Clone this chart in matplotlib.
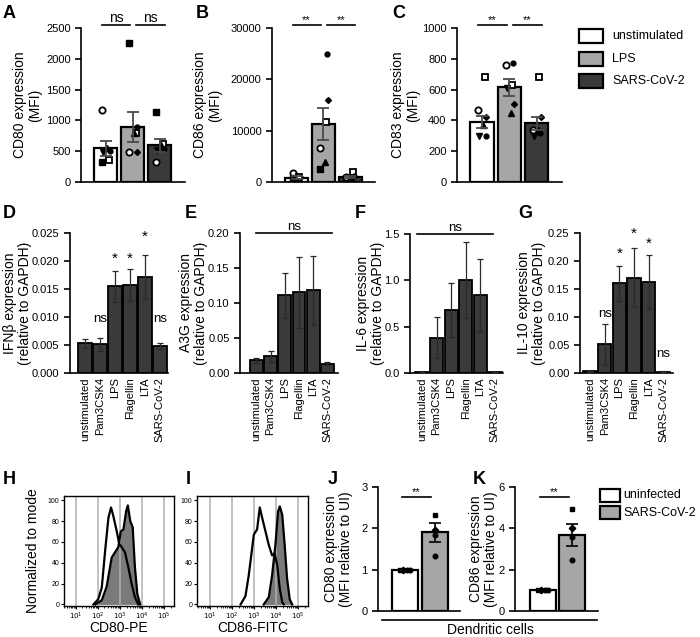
import numpy as np
import matplotlib.pyplot as plt
from matplotlib.patches import Rectangle
from matplotlib.lines import Line2D

plt.rcParams['font.family'] = ['Liberation Sans', 'DejaVu Sans']
plt.rcParams['axes.linewidth'] = 1.2

# --- data -------------------------------------------------------------
groups = ['unstimulated', 'LPS', 'SARS-CoV-2']
group_colors = ['white', '#a6a6a6', '#3a3a3a']

cd80_mean = [545, 890, 600]
cd80_sem = [120, 245, 105]
cd80_pts = [[1170, 510, 560, 480, 330, 350],
            [2250, 790, 800, 480, 480, 900],
            [1140, 620, 540, 520, 330, 600]]
cd80_mk = [['oc', 'fc', 'ft', 'iv', 'fs', 'os'],
           ['fs', 'os', 'ft', 'oc', 'fd', 'fc'],
           ['fs', 'os', 'fc', 'iv', 'oc', 'ft']]

cd86_mean = [850, 11300, 1000]
cd86_sem = [300, 3100, 250]
cd86_pts = [[1800, 900, 700, 600, 800, 1000],
            [24900, 16000, 11700, 6700, 3800, 2600],
            [2000, 1100, 900, 800, 700, 1000]]
cd86_mk = [['oc', 'fc', 'ft', 'iv', 'fs', 'os'],
           ['fc', 'fd', 'os', 'oc', 'ft', 'fs'],
           ['os', 'fc', 'ft', 'iv', 'fs', 'oc']]

cd83_mean = [390, 615, 380]
cd83_sem = [40, 55, 45]
cd83_pts = [[680, 470, 420, 370, 300, 300],
            [775, 760, 630, 506, 448, 610],
            [680, 425, 340, 340, 300, 320]]
cd83_mk = [['os', 'oc', 'fd', 'ft', 'iv', 'fc'],
           ['fc', 'oc', 'os', 'fd', 'ft', 'iv'],
           ['os', 'fd', 'oc', 'ft', 'iv', 'fc']]

stimuli = ['unstimulated', 'Pam3CSK4', 'LPS', 'Flagellin', 'LTA', 'SARS-CoV-2']
ifnb_mean = [0.0053, 0.0051, 0.0155, 0.0157, 0.0172, 0.0048]
ifnb_sem = [0.0008, 0.0011, 0.0028, 0.0028, 0.0039, 0.0006]
ifnb_sig = ['', 'ns', '*', '*', '*', 'ns']
ifnb_sig_y = [0, 0.0085, 0.0192, 0.0192, 0.0230, 0.0085]

a3g_mean = [0.018, 0.024, 0.111, 0.115, 0.118, 0.013]
a3g_sem = [0.004, 0.008, 0.032, 0.051, 0.049, 0.002]

il6_mean = [0.006, 0.38, 0.68, 1.0, 0.84, 0.006]
il6_sem = [0.002, 0.22, 0.29, 0.41, 0.39, 0.002]

il10_mean = [0.003, 0.051, 0.160, 0.170, 0.163, 0.002]
il10_sem = [0.001, 0.036, 0.031, 0.053, 0.048, 0.001]
il10_sig = ['', 'ns', '*', '*', '*', 'ns']
il10_sig_y = [0, 0.094, 0.200, 0.236, 0.218, 0.024]

# flow histograms (x = log10 fluorescence, y = % of mode)
h_open_x = [1.80, 2.02, 2.18, 2.33, 2.48, 2.60, 2.70, 2.86, 2.97, 3.08, 3.23, 3.38, 3.53, 3.68, 3.83]
h_open_y = [0, 5, 16, 51, 83, 93, 85, 70, 58, 55, 50, 36, 20, 7, 0]
h_fill_x = [1.89, 2.18, 2.40, 2.63, 2.78, 2.93, 3.04, 3.16, 3.29, 3.36, 3.47, 3.58, 3.68, 3.79, 3.92]
h_fill_y = [0, 4, 17, 45, 50, 55, 70, 72, 90, 95, 80, 74, 36, 10, 0]
i_open_x = [2.39, 2.61, 2.76, 2.99, 3.14, 3.26, 3.37, 3.52, 3.67, 3.82, 3.93, 4.05, 4.17, 4.28, 4.35]
i_open_y = [0, 8, 28, 67, 72, 93, 83, 70, 57, 47, 49, 38, 15, 2, 0]
i_fill_x = [3.44, 3.67, 3.82, 3.97, 4.09, 4.17, 4.28, 4.38, 4.50, 4.62, 4.73]
i_fill_y = [0, 7, 28, 57, 89, 94, 86, 60, 25, 5, 0]

dc_groups = ['uninfected', 'SARS-CoV-2']
dc_colors = ['white', '#a6a6a6']
j_mean = [1.0, 1.9]
j_sem = [0.01, 0.22]
j_pts = [[1.0, 1.0, 1.0, 1.0], [2.33, 1.95, 1.84, 1.34]]
k_mean = [1.0, 3.68]
k_sem = [0.02, 0.52]
k_pts = [[1.0, 1.0, 1.0, 1.0], [4.94, 4.0, 3.6, 2.46]]
dc_mk = ['fs', 'fd', 'fc', 'fc']

# --- layout helpers ---------------------------------------------------
W, H = 700, 637
fig = plt.figure(figsize=(7, 6.37), dpi=100)


def add_ax(l, t, r, b):
    return fig.add_axes([l / W, 1 - b / H, (r - l) / W, (b - t) / H])


def ylab(ax, text, right_px, l, r, size=10):
    ax.set_ylabel(text, fontsize=size, linespacing=1.05)
    ax.yaxis.set_label_coords((right_px - l) / (r - l), 0.5)


def letter(x, y, s):
    fig.text(x / W, 1 - y / H, s, fontsize=13, fontweight='bold', ha='center', va='center')


def style(ax):
    for s in ['top', 'right']:
        ax.spines[s].set_visible(False)
    ax.tick_params(direction='out', length=4, width=1.2, labelsize=8)


mk_style = {
    'oc': dict(marker='o', mfc='white', mec='black', ms=4.5, mew=1.3),
    'fc': dict(marker='o', mfc='black', mec='black', ms=3.5),
    'ft': dict(marker='^', mfc='black', mec='black', ms=4),
    'iv': dict(marker='v', mfc='black', mec='black', ms=4),
    'fs': dict(marker='s', mfc='black', mec='black', ms=3.8),
    'os': dict(marker='s', mfc='white', mec='black', ms=4.5, mew=1.3),
    'fd': dict(marker='D', mfc='black', mec='black', ms=3),
}
mk_dx = {'oc': -0.14, 'fc': 0.14, 'ft': 0.05, 'iv': -0.1, 'fs': -0.14, 'os': 0.1, 'fd': 0.16}


def sig(ax, x0, x1, y, text, fs=10):
    ax.plot([x0, x1], [y, y], color='black', lw=1.2, clip_on=False)
    ax.text((x0 + x1) / 2, y, text, ha='center', va='bottom', fontsize=fs, clip_on=False)


def abc_panel(box, means, sems, pts, mks, ymax, yticks, label, lab_right, stars):
    l, t, r, b = box
    ax = add_ax(l, t, r, b)
    x = np.arange(3)
    ax.bar(x, means, width=0.86, color=group_colors, edgecolor='black', linewidth=1.6, zorder=2)
    for i in range(3):
        for v, m in zip(pts[i], mks[i]):
            ax.plot(i + mk_dx[m], v, ls='none', zorder=3, **mk_style[m])
    ax.errorbar(x, means, yerr=sems, fmt='none', ecolor='#4a4a4a', elinewidth=1.3,
                capsize=4.5, capthick=1.3, zorder=4)
    ax.set_xlim(-0.92, 2.93)
    ax.set_ylim(0, ymax)
    ax.set_yticks(yticks)
    ax.set_xticks([])
    style(ax)
    ylab(ax, label, lab_right, l, r)
    fs = 10 if stars == 'ns' else 8
    sig(ax, -0.15, 0.9, ymax * 1.02, stars, fs)
    sig(ax, 1.12, 2.18, ymax * 1.02, stars, fs)
    return ax


def dg_panel(box, means, sems, ymax, yticks, fmt, label, lab_right, xlim):
    l, t, r, b = box
    ax = add_ax(l, t, r, b)
    x = np.arange(6)
    ax.bar(x, means, width=0.9, color='#3a3a3a', edgecolor='black', linewidth=1.3, zorder=2)
    ax.errorbar(x, means, yerr=sems, fmt='none', ecolor='#2a2a2a', elinewidth=0.9,
                capsize=2.5, capthick=0.9, zorder=3)
    ax.set_xlim(*xlim)
    ax.set_ylim(0, ymax)
    ax.set_yticks(yticks)
    ax.set_yticklabels([fmt % v for v in yticks])
    ax.set_xticks(x)
    ax.set_xticklabels(stimuli, rotation=90, fontsize=8.5)
    style(ax)
    ax.tick_params(axis='x', length=0, pad=3)
    ylab(ax, label, lab_right, l, r)
    return ax


# --- A-C ---------------------------------------------------------------
abc_panel((81, 28, 185, 182), cd80_mean, cd80_sem, cd80_pts, cd80_mk, 2500,
          [0, 500, 1000, 1500, 2000, 2500], 'CD80 expression\n(MFI)', 42, 'ns')
abc_panel((272, 28, 375, 182), cd86_mean, cd86_sem, cd86_pts, cd86_mk, 30000,
          [0, 10000, 20000, 30000], 'CD86 expression\n(MFI)', 222, '**')
abc_panel((457, 28, 562, 182), cd83_mean, cd83_sem, cd83_pts, cd83_mk, 1000,
          [0, 200, 400, 600, 800, 1000], 'CD83 expression\n(MFI)', 420, '**')

# legend for A-C
for cy, g, c in zip([36, 59, 81], groups, group_colors):
    fig.add_artist(Rectangle((579 / W, 1 - (cy + 7) / H), 24 / W, 14 / H, transform=fig.transFigure,
                             facecolor=c, edgecolor='black', lw=1.6))
    fig.text(612 / W, 1 - cy / H, g, fontsize=9, va='center', ha='left')

# --- D-G ---------------------------------------------------------------
axd = dg_panel((70, 233, 168, 373), ifnb_mean, ifnb_sem, 0.025,
               [0, 0.005, 0.010, 0.015, 0.020, 0.025], '%.3f',
               'IFNβ expression\n(relative to GAPDH)', 32, (-1.0, 5.55))
for i, (s, y) in enumerate(zip(ifnb_sig, ifnb_sig_y)):
    if s:
        axd.text(i, y, s, ha='center', va='bottom', fontsize=9.5 if s == 'ns' else 11)

axe = dg_panel((240, 233, 338, 373), a3g_mean, a3g_sem, 0.20,
               [0, 0.05, 0.10, 0.15, 0.20], '%.2f',
               'A3G expression\n(relative to GAPDH)', 208, (-1.15, 5.75))
sig(axe, 0.0, 5.35, 0.20, 'ns', 9.5)

axf = dg_panel((410, 234, 503, 373), il6_mean, il6_sem, 1.5,
               [0, 0.5, 1.0, 1.5], '%.1f',
               'IL-6 expression\n(relative to GAPDH)', 385, (-0.82, 5.55))
sig(axf, -0.35, 4.85, 1.5, 'ns', 9.5)

axg = dg_panel((580, 233, 673, 373), il10_mean, il10_sem, 0.25,
               [0, 0.05, 0.10, 0.15, 0.20, 0.25], '%.2f',
               'IL-10 expression\n(relative to GAPDH)', 546, (-0.68, 5.65))
for i, (s, y) in enumerate(zip(il10_sig, il10_sig_y)):
    if s:
        axg.text(i, y, s, ha='center', va='bottom', fontsize=9.5 if s == 'ns' else 11)


# --- H, I histograms -----------------------------------------------------
def hist_panel(box, ox, oy, fx, fy, xlim, xlabel):
    l, t, r, b = box
    ax = add_ax(l, t, r, b)
    ax.fill_between(fx, fy, color='#7a7a7a', lw=0, zorder=1)
    for d in range(1, 6):
        ax.axvline(d, color='#b0b0b0', lw=1.1, zorder=2)
    ax.plot(fx, fy, color='black', lw=1.6, zorder=3)
    ax.plot(ox, oy, color='black', lw=1.6, zorder=3)
    ax.set_xlim(*xlim)
    ax.set_ylim(-1.5, 104)
    ax.set_yticks([0, 20, 40, 60, 80, 100])
    ax.set_xticks([1, 2, 3, 4, 5])
    ax.set_xticklabels([r'$10^{%d}$' % d for d in range(1, 6)])
    minors = [d + np.log10(k) for d in range(0, 6) for k in range(2, 10)]
    ax.set_xticks([m for m in minors if xlim[0] < m < xlim[1]], minor=True)
    ax.tick_params(direction='out', length=2.5, width=0.8, labelsize=5, pad=1)
    ax.tick_params(which='minor', length=1.5, width=0.6)
    for s in ax.spines.values():
        s.set_linewidth(1.0)
    ax.set_xlabel(xlabel, fontsize=10)
    ax.xaxis.set_label_coords(0.5, -(621 - b) / (b - t))
    return ax


axh = hist_panel((64, 496, 174, 606), h_open_x, h_open_y, h_fill_x, h_fill_y, (0.47, 5.45), 'CD80-PE')
ylab(axh, 'Normalized to mode', 40, 64, 174)
hist_panel((197, 496, 308, 606), i_open_x, i_open_y, i_fill_x, i_fill_y, (0.41, 5.45), 'CD86-FITC')


# --- J, K ----------------------------------------------------------------
def jk_panel(box, means, sems, pts, ymax, yticks, label, lab_right, xlim):
    l, t, r, b = box
    ax = add_ax(l, t, r, b)
    x = np.arange(2)
    ax.bar(x, means, width=0.88, color=dc_colors, edgecolor='black', linewidth=1.6, zorder=2)
    for i in range(2):
        for j, (v, m) in enumerate(zip(pts[i], dc_mk)):
            dx = (j - 1.5) * 0.12 if i == 0 else 0.0
            ax.plot(i + dx, v, ls='none', zorder=3, **dict(mk_style[m], ms=3.3))
    ax.errorbar(x, means, yerr=sems, fmt='none', ecolor='black', elinewidth=1.2,
                capsize=4.5, capthick=1.2, zorder=4)
    ax.set_xlim(*xlim)
    ax.set_ylim(0, ymax)
    ax.set_yticks(yticks)
    ax.set_xticks([])
    style(ax)
    ylab(ax, label, lab_right, l, r)
    sig(ax, -0.1, 0.88, ymax * 0.92, '**', 8)
    return ax


jk_panel((378, 487, 460, 611), j_mean, j_sem, j_pts, 3, [0, 1, 2, 3],
         'CD80 expression\n(MFI relative to UI)', 353, (-0.92, 1.86))
jk_panel((515, 487, 598, 611), k_mean, k_sem, k_pts, 6, [0, 2, 4, 6],
         'CD86 expression\n(MFI relative to UI)', 498, (-0.97, 1.9))

for cy, g, c in zip([495.5, 512.5], dc_groups, dc_colors):
    fig.add_artist(Rectangle((600 / W, 1 - (cy + 6.5) / H), 20 / W, 13 / H, transform=fig.transFigure,
                             facecolor=c, edgecolor='black', lw=1.6))
    fig.text(623 / W, 1 - cy / H, g, fontsize=9, va='center', ha='left')

fig.add_artist(Line2D([382 / W, 597 / W], [1 - 620 / H, 1 - 620 / H], color='black', lw=1.2,
                      transform=fig.transFigure))
fig.text(490 / W, 1 - 630 / H, 'Dendritic cells', fontsize=10, ha='center', va='center')

# --- panel letters ---------------------------------------------------------
for x, y, s in [(9, 13, 'A'), (202, 13, 'B'), (399, 13, 'C'),
                (9, 214, 'D'), (191, 214, 'E'), (360, 214, 'F'), (525, 214, 'G'),
                (9, 479, 'H'), (188, 479, 'I'), (333, 479, 'J'), (479, 479, 'K')]:
    letter(x, y, s)

fig.savefig('out.png', dpi=100)
